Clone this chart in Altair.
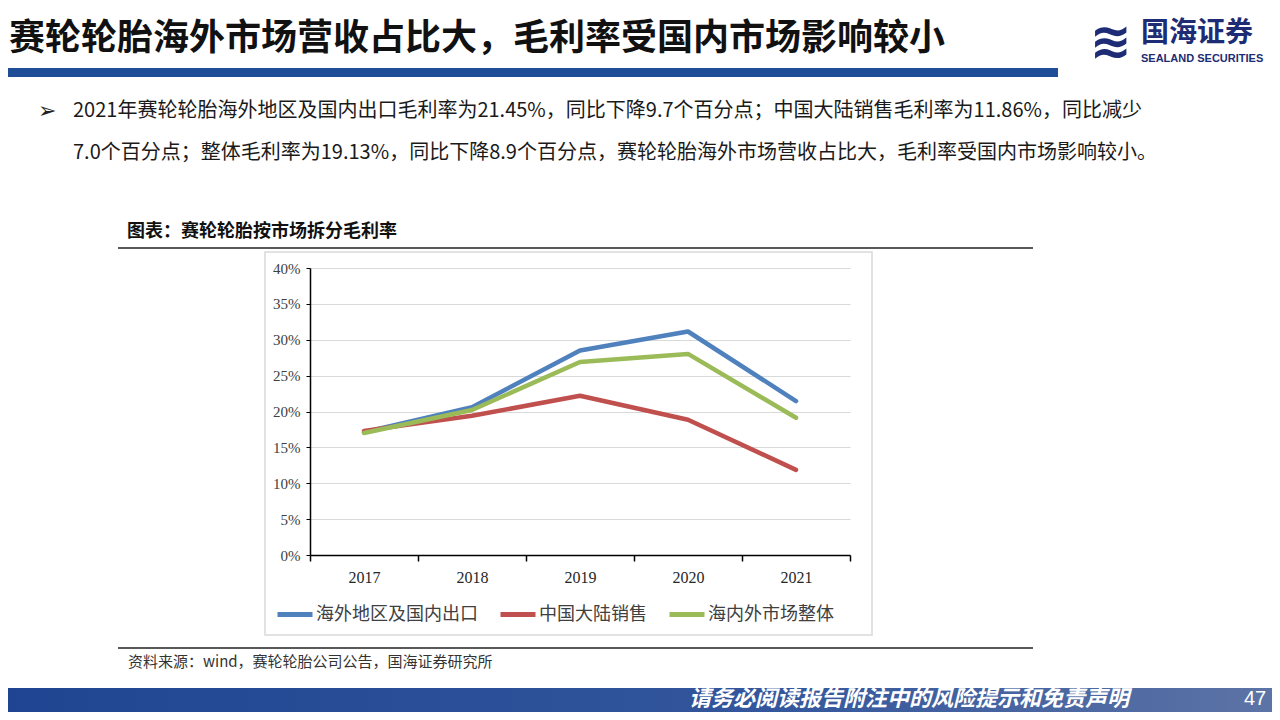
import altair as alt
import pandas as pd

# ---------------- data ----------------
years = ["2017", "2018", "2019", "2020", "2021"]
series_names = ["海外地区及国内出口", "中国大陆销售", "海内外市场整体"]
series_colors = ["#4F81BD", "#C0504D", "#9BBB59"]
overseas = [17.1, 20.6, 28.5, 31.15, 21.45]
domestic = [17.3, 19.4, 22.2, 18.86, 11.86]
overall = [17.0, 20.2, 26.9, 28.03, 19.13]
y_ticks = [0, 0.05, 0.10, 0.15, 0.20, 0.25, 0.30, 0.35, 0.40]

slide_title = "赛轮轮胎海外市场营收占比大，毛利率受国内市场影响较小"
bullet_mark = "➢"
bullet_line1 = "2021年赛轮轮胎海外地区及国内出口毛利率为21.45%，同比下降9.7个百分点；中国大陆销售毛利率为11.86%，同比减少"
bullet_line2 = "7.0个百分点；整体毛利率为19.13%，同比下降8.9个百分点，赛轮轮胎海外市场营收占比大，毛利率受国内市场影响较小。"
chart_heading = "图表：赛轮轮胎按市场拆分毛利率"
source_text = "资料来源：wind，赛轮轮胎公司公告，国海证券研究所"
logo_cn = "国海证券"
logo_en = "SEALAND SECURITIES"
footer_text = "请务必阅读报告附注中的风险提示和免责声明"
page_no = "47"

rows = []
for name, vals in zip(series_names, [overseas, domestic, overall]):
    for yr, v in zip(years, vals):
        rows.append({"year": yr, "series": name, "value": v / 100})
df = pd.DataFrame(rows)

# ---------------- layout ----------------
W, H = 540, 287
PL, PT = 302, 260
PR = 1264 - PL - W
PB = 704 - PT - H
CJK = "Noto Sans CJK SC"
NAVY = "#1d2c74"


def X(px):
    return px - (PL + 8)


def Y(py):
    return py - (PT + 8)


one = pd.DataFrame({"k": [0]})


def txt(s, px, py, size, **kw):
    params = dict(text=s, align="left", baseline="middle", fontSize=size, font=CJK)
    params.update(kw)
    return alt.Chart(one).mark_text(**params).encode(
        x=alt.value(X(px)), y=alt.value(Y(py))
    )


def rect(px1, px2, py1, py2, **kw):
    return alt.Chart(one).mark_rect(**kw).encode(
        x=alt.value(X(px1)), x2=alt.value(X(px2)),
        y=alt.value(Y(py1)), y2=alt.value(Y(py2)),
    )


def hrule(px1, px2, py, **kw):
    return alt.Chart(one).mark_rule(**kw).encode(
        x=alt.value(X(px1)), x2=alt.value(X(px2)), y=alt.value(Y(py))
    )


# ---------------- chart ----------------
lines = alt.Chart(df).mark_line(strokeWidth=4.5, strokeJoin="round", strokeCap="round").encode(
    x=alt.X(
        "year:O", sort=years, bandPosition=0.5,
        scale=alt.Scale(type="band", paddingInner=0, paddingOuter=0),
        axis=alt.Axis(
            title=None, labelAngle=0, tickBand="extent", grid=False,
            labelFont="Liberation Serif", labelFontSize=16, labelColor="#262626",
            labelPadding=8, tickSize=6, tickColor="#000", tickWidth=1.5,
            domainColor="#000", domainWidth=1.5,
        ),
    ),
    y=alt.Y(
        "value:Q",
        scale=alt.Scale(domain=[0, 0.4], nice=False),
        axis=alt.Axis(
            title=None, format=".0%", values=y_ticks,
            labelFont="Liberation Serif", labelFontSize=15, labelColor="#404040",
            labelPadding=6, tickSize=4, tickColor="#000", tickWidth=1,
            domainColor="#000", domainWidth=1.5,
            gridColor="#d9d9d9", gridWidth=1,
        ),
    ),
    color=alt.Color(
        "series:N", sort=series_names,
        scale=alt.Scale(domain=series_names, range=series_colors),
        legend=alt.Legend(
            title=None, orient="none", legendX=X(275), legendY=Y(612) - 17.5,
            direction="horizontal", columns=3, symbolType="stroke",
            symbolStrokeWidth=5, symbolSize=1225, labelFont=CJK,
            labelFontSize=18, labelColor="#404040", labelOffset=1,
            columnPadding=12, labelLimit=400,
        ),
    ),
)

chart_box = rect(265, 872, 252, 635, fill="#ffffff", fillOpacity=0,
                 stroke="#d9d9d9", strokeWidth=1.5)

top_bar = rect(0, 1058, 68, 77, fill="#1f4e96")
footer_bar = rect(0, 1280, 688, 720, fill=alt.Gradient(
    gradient="linear", x1=0, x2=1, y1=0, y2=0,
    stops=[alt.GradientStop(color="#1f4592", offset=0),
           alt.GradientStop(color="#33569c", offset=0.6),
           alt.GradientStop(color="#5d74a6", offset=1)],
))

decor = [
    txt(slide_title, 9, 39, 36, fontWeight="bold", color="#111111"),
    txt("≋", 1090, 43, 50, font="DejaVu Sans", color=NAVY, fontWeight="bold"),
    txt(logo_cn, 1141, 34, 28, fontWeight="bold", color=NAVY),
    txt(logo_en, 1141, 59, 11, font="Liberation Sans", fontWeight="bold", color=NAVY),
    txt(bullet_mark, 38, 111, 22, font="DejaVu Sans", color="#222222"),
    txt(bullet_line1, 73, 111, 20, color="#1a1a1a"),
    txt(bullet_line2, 73, 153, 20, color="#1a1a1a"),
    txt(chart_heading, 127, 232, 18, fontWeight="bold", color="#111111"),
    hrule(118, 1033, 248, color="#222222", strokeWidth=1.5),
    hrule(118, 1033, 648, color="#222222", strokeWidth=1.5),
    txt(source_text, 128, 662, 15, color="#333333"),
    txt(footer_text, 689, 699, 22, fontWeight="bold", fontStyle="italic", color="#ffffff"),
    txt(page_no, 1244, 699, 20, font="Liberation Sans", color="#ffffff"),
]

chart = alt.layer(chart_box, top_bar, footer_bar, lines, *decor).properties(
    width=W, height=H,
    padding={"left": PL, "top": PT, "right": PR, "bottom": PB},
    autosize=alt.AutoSizeParams(type="none"),
    background="#ffffff",
).configure_view(stroke=None)

chart.save("out.html", embed_options={"renderer": "svg", "actions": False})
